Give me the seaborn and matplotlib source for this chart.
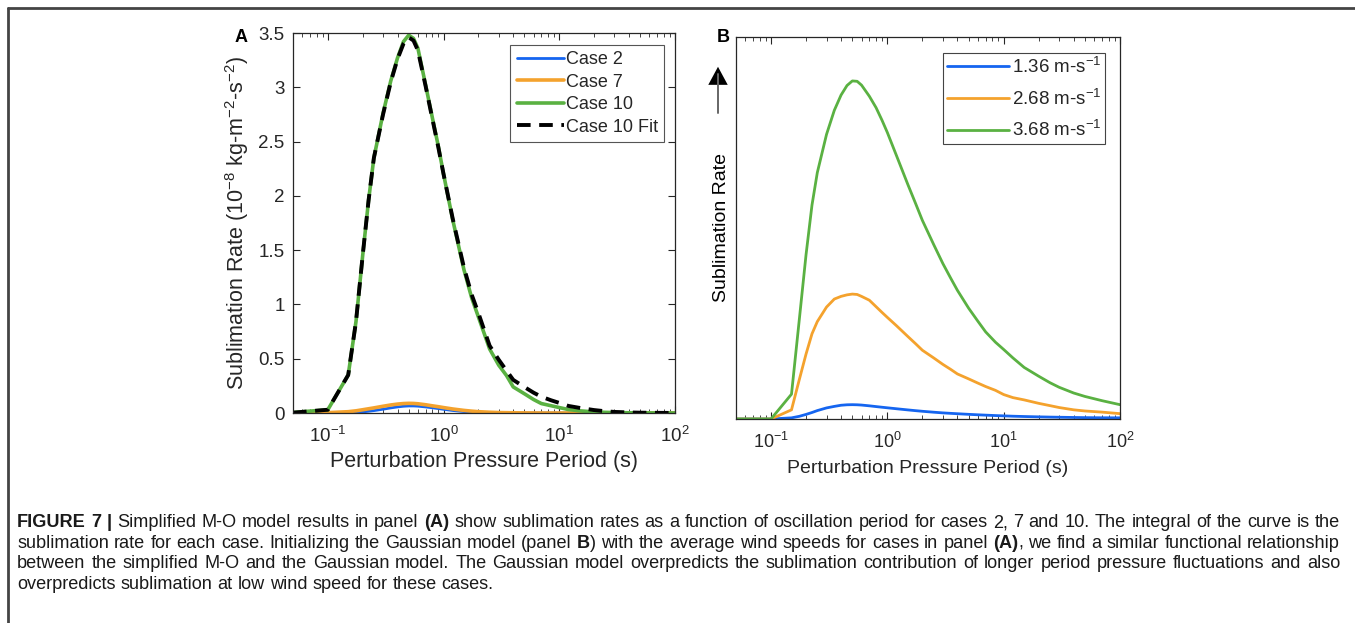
import numpy as np
import pandas as pd
import matplotlib
matplotlib.use("Agg")
import matplotlib.pyplot as plt
import matplotlib.ticker as mticker
from matplotlib.font_manager import FontProperties
from matplotlib.lines import Line2D
from matplotlib.patches import FancyArrowPatch
import seaborn as sns

# ---------------- data ----------------
period = [0.05, 0.1, 0.15, 0.175, 0.2, 0.225, 0.25, 0.3, 0.35, 0.4,
          0.45, 0.5, 0.55, 0.6, 0.7, 0.8, 0.9, 1.0, 1.2, 1.5,
          1.75, 2, 2.5, 3, 3.5, 4, 5, 6, 7, 8.5,
          10, 12, 15, 20, 25, 30, 40, 50, 70, 100]

# Panel A : simplified M-O model (10^-8 kg m^-2 s^-2)
case2 = [0, 0, 0.003, 0.006, 0.010, 0.016, 0.022, 0.035, 0.047, 0.056,
         0.062, 0.065, 0.065, 0.063, 0.056, 0.048, 0.041, 0.034, 0.023, 0.013,
         0.008, 0.005, 0.002, 0.001, 0, 0, 0, 0, 0, 0,
         0, 0, 0, 0, 0, 0, 0, 0, 0, 0]
case7 = [0, 0.003, 0.012, 0.020, 0.030, 0.039, 0.047, 0.062, 0.074, 0.082,
         0.087, 0.089, 0.088, 0.085, 0.076, 0.066, 0.058, 0.050, 0.037, 0.024,
         0.017, 0.012, 0.007, 0.004, 0.003, 0.002, 0.001, 0.0005, 0, 0,
         0, 0, 0, 0, 0, 0, 0, 0, 0, 0]
case10 = [0.005, 0.03, 0.35, 0.84, 1.45, 1.96, 2.35, 2.76, 3.06, 3.27,
          3.42, 3.48, 3.45, 3.36, 3.02, 2.72, 2.46, 2.20, 1.78, 1.32,
          1.06, 0.885, 0.59, 0.44, 0.345, 0.24, 0.177, 0.124, 0.087, 0.067,
          0.05, 0.032, 0.02, 0.01, 0.006, 0.004, 0.002, 0.001, 0.0005, 0]
case10_fit = [0.003, 0.03, 0.35, 0.84, 1.45, 1.96, 2.35, 2.75, 3.05, 3.26,
              3.40, 3.46, 3.43, 3.34, 3.01, 2.71, 2.45, 2.20, 1.79, 1.34,
              1.09, 0.92, 0.62, 0.49, 0.39, 0.305, 0.239, 0.187, 0.15, 0.117,
              0.093, 0.065, 0.047, 0.027, 0.016, 0.01, 0.005, 0.003, 0.0015, 0.0005]

# Panel B : Gaussian model (arbitrary units)
wind_136 = [0, 0, 0.003, 0.007, 0.012, 0.017, 0.022, 0.029, 0.033, 0.036,
            0.0372, 0.0375, 0.0372, 0.0365, 0.0345, 0.0325, 0.0308, 0.0293, 0.0268, 0.0238,
            0.0218, 0.0202, 0.0178, 0.016, 0.0148, 0.0138, 0.0122, 0.011, 0.0101, 0.009,
            0.0082, 0.0073, 0.0065, 0.0056, 0.005, 0.0046, 0.004, 0.0036, 0.0032, 0.003]
wind_268 = [0, 0, 0.024, 0.103, 0.17, 0.223, 0.255, 0.293, 0.314, 0.321,
            0.325, 0.327, 0.326, 0.321, 0.311, 0.294, 0.279, 0.266, 0.244, 0.216,
            0.197, 0.18, 0.16, 0.143, 0.13, 0.118, 0.105, 0.094, 0.085, 0.075,
            0.064, 0.056, 0.05, 0.041, 0.035, 0.03, 0.024, 0.021, 0.018, 0.014]
wind_368 = [0, 0, 0.065, 0.26, 0.43, 0.56, 0.645, 0.745, 0.808, 0.848,
            0.873, 0.885, 0.884, 0.874, 0.845, 0.815, 0.782, 0.75, 0.689, 0.614,
            0.564, 0.52, 0.457, 0.407, 0.369, 0.337, 0.29, 0.256, 0.228, 0.201,
            0.182, 0.16, 0.135, 0.112, 0.095, 0.083, 0.068, 0.059, 0.048, 0.0375]

labels_a = ["Case 2", "Case 7", "Case 10", "Case 10 Fit"]
labels_b = ["1.36 m-s$^{-1}$", "2.68 m-s$^{-1}$", "3.68 m-s$^{-1}$"]
yticks_a = [0, 0.5, 1, 1.5, 2, 2.5, 3, 3.5]
xticks = [0.1, 1, 10, 100]

caption_lines = [
    [("FIGURE 7 |", True), (" Simplified M-O model results in panel ", False), ("(A)", True),
     (" show sublimation rates as a function of oscillation period for cases 2, 7 and 10. The integral of the curve is the", False)],
    [("sublimation rate for each case. Initializing the Gaussian model (panel ", False), ("B", True),
     (") with the average wind speeds for cases in panel ", False), ("(A)", True),
     (", we find a similar functional relationship", False)],
    [("between the simplified M-O and the Gaussian model. The Gaussian model overpredicts the sublimation contribution of longer period pressure fluctuations and also", False)],
    [("overpredicts sublimation at low wind speed for these cases.", False)],
]

# ---------------- style ----------------
sns.set_theme(style="white")
plt.rcParams["font.family"] = ["Liberation Sans", "DejaVu Sans"]
plt.rcParams["mathtext.fontset"] = "custom"
plt.rcParams["mathtext.rm"] = "Liberation Sans"
plt.rcParams["mathtext.it"] = "Liberation Sans:italic"
plt.rcParams["mathtext.bf"] = "Liberation Sans:bold"

BLUE = "#1565F0"
ORANGE = "#F4A22D"
GREEN = "#5AB142"
AXC = "#262626"

W, H = 1355, 623
fig = plt.figure(figsize=(W / 100, H / 100), dpi=100)
fig.patch.set_facecolor("white")


def fx(px):
    return px / W


def fy(py):
    return 1 - py / H


axA = fig.add_axes([fx(293), fy(413), fx(675) - fx(293), fy(33) - fy(413)])
axB = fig.add_axes([fx(736), fy(419), fx(1120) - fx(736), fy(37) - fy(419)])

dfA = pd.DataFrame({"period": period, "c2": case2, "c7": case7, "c10": case10, "fit": case10_fit})
dfB = pd.DataFrame({"period": period, "w1": wind_136, "w2": wind_268, "w3": wind_368})

for ax in (axA, axB):
    ax.set_xscale("log")

sns.lineplot(data=dfA, x="period", y="c2", ax=axA, color=BLUE, lw=2.0, label=labels_a[0])
sns.lineplot(data=dfA, x="period", y="c7", ax=axA, color=ORANGE, lw=2.6, label=labels_a[1])
sns.lineplot(data=dfA, x="period", y="c10", ax=axA, color=GREEN, lw=2.6, label=labels_a[2])
sns.lineplot(data=dfA, x="period", y="fit", ax=axA, color="black", lw=2.8, label=labels_a[3],
             linestyle=(0, (3.5, 2.2)))

sns.lineplot(data=dfB, x="period", y="w1", ax=axB, color=BLUE, lw=2.0, label=labels_b[0])
sns.lineplot(data=dfB, x="period", y="w2", ax=axB, color=ORANGE, lw=2.0, label=labels_b[1])
sns.lineplot(data=dfB, x="period", y="w3", ax=axB, color=GREEN, lw=2.0, label=labels_b[2])

for ax in (axA, axB):
    ax.set_xlim(0.05, 100)
    ax.set_xticks(xticks)
    ax.xaxis.set_major_formatter(mticker.LogFormatterSciNotation())
    ax.xaxis.set_minor_locator(mticker.LogLocator(base=10, subs=np.arange(2, 10) * 1.0, numticks=20))
    ax.xaxis.set_minor_formatter(mticker.NullFormatter())
    for s in ax.spines.values():
        s.set_color(AXC)
        s.set_linewidth(0.9)
        s.set_visible(True)
    ax.tick_params(axis="x", which="both", direction="in", top=True, bottom=True,
                   colors=AXC, labelcolor=AXC, labelsize=13.5, pad=9)
    ax.tick_params(axis="x", which="major", length=5, width=0.8)
    ax.tick_params(axis="x", which="minor", length=3, width=0.6)
    ax.set_facecolor("white")

axA.set_xlabel("Perturbation Pressure Period (s)", fontsize=15.5, color=AXC, labelpad=4)
axB.set_xlabel("Perturbation Pressure Period (s)", fontsize=14, color=AXC, labelpad=6)
axB.tick_params(axis="x", labelsize=13)

axA.set_ylim(0, 3.5)
axA.set_yticks(yticks_a)
axA.yaxis.set_major_formatter(mticker.FormatStrFormatter("%g"))
axA.tick_params(axis="y", which="both", direction="in", left=True, right=True,
                length=5, width=0.8, colors=AXC, labelcolor=AXC, labelsize=13.5, pad=6)
axA.set_ylabel("Sublimation Rate (10$^{-8}$ kg-m$^{-2}$-s$^{-2}$)", fontsize=15.5, color=AXC, labelpad=5)

axB.set_ylim(0, 1)
axB.set_yticks([])
axB.set_ylabel("Sublimation Rate", fontsize=14, color="black", labelpad=4)

legA = axA.legend(loc="upper right", bbox_to_anchor=(1 - (675 - 664) / (675 - 293), 1 - (45 - 33) / (413 - 33)),
                  fontsize=13, frameon=True, fancybox=False, framealpha=1, edgecolor="#555555",
                  handlelength=2.6, handletextpad=0.1, borderpad=0.35, labelspacing=0.3, borderaxespad=0)
legA.get_frame().set_linewidth(0.8)
legB = axB.legend(loc="upper right", bbox_to_anchor=(1 - (1120 - 1105) / (1120 - 736), 1 - (53 - 37) / (419 - 37)),
                  fontsize=13.5, frameon=True, fancybox=False, framealpha=1, edgecolor="#444444",
                  handlelength=3.3, handletextpad=0.15, borderpad=0.2, labelspacing=0.62, borderaxespad=0)
legB.get_frame().set_linewidth(0.8)

# panel letters
fig.text(fx(241), fy(38), "A", fontsize=13, fontweight="bold", ha="center", va="center", color="black")
fig.text(fx(723), fy(37), "B", fontsize=13, fontweight="bold", ha="center", va="center", color="black")

# arrow in panel B
fig.add_artist(Line2D([fx(718), fx(718)], [fy(113), fy(74)], color="#666666", lw=1.4,
                      transform=fig.transFigure))
fig.add_artist(FancyArrowPatch((fx(718), fy(78)), (fx(718), fy(64)),
                               transform=fig.transFigure, arrowstyle="-|>,head_length=0.65,head_width=0.35",
                               mutation_scale=20, color="black", lw=0))

# outer frame (top and left edges visible)
fig.add_artist(Line2D([fx(8), fx(1355)], [fy(8), fy(8)], color="#444444", lw=2, transform=fig.transFigure))
fig.add_artist(Line2D([fx(8), fx(8)], [fy(8), fy(623)], color="#444444", lw=2, transform=fig.transFigure))

# ---------------- caption (justified, mixed weight) ----------------
CAP_FAMILY = ["Liberation Sans", "DejaVu Sans"]


def fprops(bold, fs):
    return FontProperties(family=CAP_FAMILY, weight="bold" if bold else "normal", size=fs)


renderer = fig.canvas.get_renderer()


def tokenize(line):
    toks = []
    cur, curb = "", None
    for seg, b in line:
        for ch in seg:
            if ch == " ":
                if cur:
                    toks.append([cur, curb, True])
                    cur, curb = "", None
                elif toks:
                    toks[-1][2] = True
            else:
                if cur and curb != b:
                    toks.append([cur, curb, False])
                    cur = ""
                cur += ch
                curb = b
    if cur:
        toks.append([cur, curb, False])
    return toks


def text_w(s, b, fs):
    t = fig.text(0, 0, s, fontproperties=fprops(b, fs))
    w = t.get_window_extent(renderer).width
    t.remove()
    return w


x0, x1 = 17, 1340
target = x1 - x0
fs = 14.0
tok_lines = [tokenize(l) for l in caption_lines]
while True:
    sp = text_w("x x", False, fs) - text_w("xx", False, fs)
    widths = []
    for toks in tok_lines[:3]:
        widths.append(sum(text_w(t[0], t[1], fs) for t in toks) + sp * sum(1 for t in toks[:-1] if t[2]))
    if max(widths) <= target or fs < 7:
        break
    fs -= 0.1

baselines = [527, 548, 568, 589]
for i, toks in enumerate(tok_lines):
    ws = [text_w(t[0], t[1], fs) for t in toks]
    nsp = sum(1 for t in toks[:-1] if t[2])
    if i < 3 and nsp:
        gap = (target - sum(ws)) / nsp
    else:
        gap = sp
    x = x0
    for (s, b, spc), w in zip(toks, ws):
        fig.text(fx(x), fy(baselines[i]), s, fontproperties=fprops(b, fs),
                 color="#1a1a1a", va="baseline", ha="left")
        x += w + (gap if spc else 0)

fig.savefig("out.png", dpi=100, facecolor="white")
